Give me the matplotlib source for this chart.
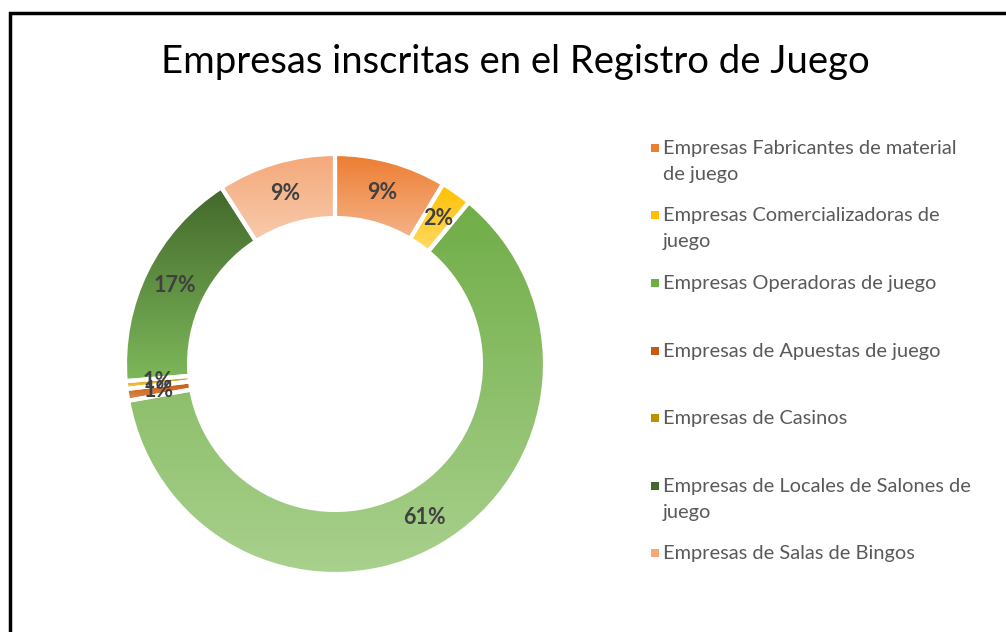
import matplotlib
matplotlib.use("Agg")
import matplotlib.pyplot as plt
import numpy as np
from matplotlib.colors import LinearSegmentedColormap
from matplotlib.patches import Rectangle

# data
labels = ["Empresas Fabricantes de material\nde juego",
          "Empresas Comercializadoras de\njuego",
          "Empresas Operadoras de juego",
          "Empresas de Apuestas de juego",
          "Empresas de Casinos",
          "Empresas de Locales de Salones de\njuego",
          "Empresas de Salas de Bingos"]
values = [8.6, 2.4, 61.2, 0.9, 0.6, 17.2, 9.1]
top_colors = ["#ED7D31", "#FFC000", "#70AD47", "#C55A11", "#BF9000", "#43682B", "#F4A878"]
bottom_colors = ["#F5B48A", "#FFDA66", "#A9D18E", "#E08A4E", "#FFD34D", "#7DB85A", "#F8CBAD"]
legend_y = [148, 215, 283, 351, 418, 486, 553]

plt.rcParams['font.family'] = ['Lato', 'DejaVu Sans']

W, H = 1006, 632
fig = plt.figure(figsize=(W / 100, H / 100), dpi=100)
fig.patch.set_facecolor("white")

# chart frame (cut off at right/bottom)
fig.add_artist(Rectangle((10 / W, -0.1), 1.2, 1 - 13 / H + 0.1,
                         transform=fig.transFigure, fill=False,
                         edgecolor="black", linewidth=2.5))

cx, cy, r = 335, 364, 210
ax = fig.add_axes([(cx - r) / W, (H - cy - r) / H, 2 * r / W, 2 * r / H])
ring = 0.305
wedges, texts, autotexts = ax.pie(values, startangle=90, counterclock=False, radius=1,
                                  autopct='%1.0f%%', pctdistance=1 - ring / 2,
                                  wedgeprops=dict(width=ring, edgecolor="white", linewidth=3),
                                  textprops=dict(fontsize=15.5, fontweight="bold", color="#404040"))

for w, c1, c2 in zip(wedges, top_colors, bottom_colors):
    ext = w.get_path().get_extents()
    cmap = LinearSegmentedColormap.from_list("g", [c2, c1])
    grad = np.linspace(0, 1, 256).reshape(-1, 1)
    im = ax.imshow(grad, cmap=cmap, origin="lower", aspect="auto",
                   extent=[ext.x0, ext.x1, ext.y0, ext.y1], zorder=1)
    im.set_clip_path(w)
    w.set_facecolor("none")
    w.set_zorder(2)
for t in autotexts:
    t.set_zorder(3)

ax.set_xlim(-1, 1)
ax.set_ylim(-1, 1)
ax.set_aspect("equal")
ax.axis("off")

fig.text(515 / W, 1 - 62 / H, "Empresas inscritas en el Registro de Juego",
         ha="center", va="center", fontsize=27.5, color="black")

# legend
for lab, y, c1, c2 in zip(labels, legend_y, top_colors, bottom_colors):
    fig.add_artist(Rectangle((651 / W, 1 - (y + 4) / H), 8 / W, 8 / H,
                             transform=fig.transFigure, facecolor=c1, edgecolor="none"))
    fig.text(663 / W, 1 - (y - 8) / H, lab, ha="left", va="top", fontsize=14.4,
             color="#595959", linespacing=1.65)

fig.savefig("out.png", dpi=100)
